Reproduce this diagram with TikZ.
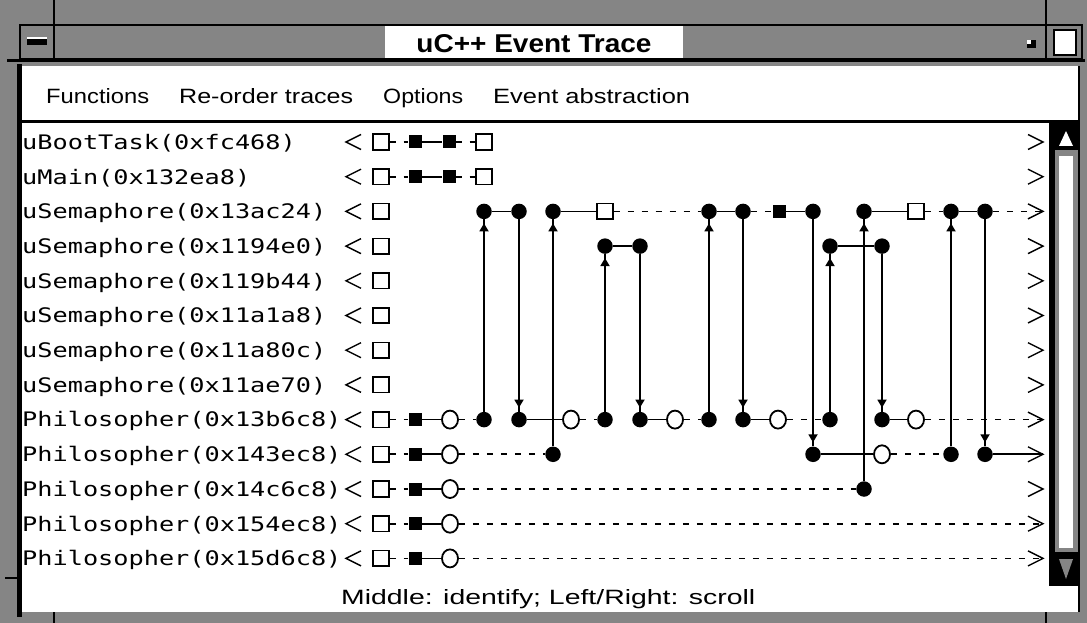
\documentclass[tikz,border=0pt]{standalone}
\usepackage{fontspec}
\setmainfont{Liberation Sans}
\newfontfamily\monof{DejaVu Sans Mono}
\usetikzlibrary{arrows.meta,decorations.markings,shapes.geometric}
\definecolor{dith}{gray}{0.52}
\newcommand{\lbltext}[1]{\scalebox{1.2625}[1]{\monof\fontsize{20pt}{20pt}\selectfont #1}}
\begin{document}
\begin{tikzpicture}[x=1pt,y=-1pt,
  osq/.style={rectangle,draw,fill=white,line width=1.6pt,minimum size=15.5pt,inner sep=0pt},
  fsq/.style={rectangle,fill=black,minimum size=13pt,inner sep=0pt},
  ocir/.style={ellipse,draw,fill=white,line width=1.8pt,minimum width=16pt,minimum height=18pt,inner sep=0pt},
  fcir/.style={circle,fill=black,minimum size=15.5pt,inner sep=0pt},
  sol/.style={line width=1.7pt},
  dsh/.style={line width=1.7pt,dash pattern=on 6pt off 8pt},
  chev/.style={line width=1.4pt},
  msgto/.style={line width=1.7pt,postaction={decorate},
    decoration={markings,mark=at position -4pt with {\arrow{Triangle[width=9pt,length=8pt]}}}},
  lab/.style={anchor=base west,inner sep=0pt},
  menuitem/.style={anchor=base west,inner sep=0pt}
]
\useasboundingbox (0,0) rectangle (1087,623);
% background (dithered grey)
\fill[dith] (0,0) rectangle (1087,623);
% ---------- title bar ----------
\filldraw[fill=dith,draw=black,line width=1.2pt] (20,25) rectangle (1082,59);
\fill[white] (385,26) rectangle (683,58);
\node[anchor=base,inner sep=0pt] (title) at (534,53) {\resizebox{235pt}{18pt}{\bfseries uC++ Event Trace}};
\draw[line width=1.2pt] (54,0) -- (54,59);
\draw[line width=1.2pt] (1046,0) -- (1046,59);
\fill[black] (27,39) rectangle (47,45);
\fill[white] (27,37.5) rectangle (47,39.5);
\fill[black] (1027,40) rectangle (1036,48);
\fill[white] (1027,40) rectangle (1031,44);
\filldraw[fill=white,draw=black,line width=1.2pt] (1054,30) rectangle (1076,55);
\draw[line width=2.5pt] (1055,55) -- (1076,55) -- (1076,31);
\draw[line width=3pt] (7,61) -- (1085,61);
% ---------- window ----------
\fill[white] (20,66) rectangle (1079,612);
\fill[black] (17,64) rectangle (22,617);
\draw[line width=1.5pt] (1079,66) -- (1079,612);
\draw[line width=3pt] (18,121.5) -- (1080,121.5);
\draw[line width=1.2pt] (5,578) -- (17,578);
\draw[line width=1.2pt] (54,612) -- (54,623);
\draw[line width=1.2pt] (1046,612) -- (1046,623);
% menu
\node[menuitem] (mFun) at (46,104) {\resizebox{103pt}{15pt}{Functions}};
\node[menuitem] (mReo) at (179,104) {\resizebox{174pt}{15pt}{Re-order traces}};
\node[menuitem] (mOpt) at (383,104) {\resizebox{80pt}{15pt}{Options}};
\node[menuitem] (mEvt) at (493,104) {\resizebox{197pt}{15pt}{Event abstraction}};
% status line
\node[menuitem] (status) at (341,604) {\resizebox{414pt}{15pt}{Middle: identify; Left/Right: scroll}};
% ---------- scrollbar ----------
\draw[line width=1.5pt] (1050,123) -- (1050,586);
\fill[black] (1051,123) rectangle (1078,586);
\fill[dith] (1055,150) rectangle (1078,552);
\fill[white] (1059,156) rectangle (1073,548);
\fill[white] (1059,146) -- (1073,146) -- (1066,131) -- cycle;
\fill[dith] (1059,559) -- (1073,559) -- (1066,579) -- cycle;
% ---------- trace labels ----------
\node[lab] (l0) at (22,149.3) {\lbltext{uBootTask(0xfc468)}};
\node[lab] (l1) at (22,184.0) {\lbltext{uMain(0x132ea8)}};
\node[lab] (l2) at (22,218.7) {\lbltext{uSemaphore(0x13ac24)}};
\node[lab] (l3) at (22,253.4) {\lbltext{uSemaphore(0x1194e0)}};
\node[lab] (l4) at (22,288.1) {\lbltext{uSemaphore(0x119b44)}};
\node[lab] (l5) at (22,322.8) {\lbltext{uSemaphore(0x11a1a8)}};
\node[lab] (l6) at (22,357.5) {\lbltext{uSemaphore(0x11a80c)}};
\node[lab] (l7) at (22,392.2) {\lbltext{uSemaphore(0x11ae70)}};
\node[lab] (l8) at (22,426.9) {\lbltext{Philosopher(0x13b6c8)}};
\node[lab] (l9) at (22,461.6) {\lbltext{Philosopher(0x143ec8)}};
\node[lab] (l10) at (22,496.3) {\lbltext{Philosopher(0x14c6c8)}};
\node[lab] (l11) at (22,531.0) {\lbltext{Philosopher(0x154ec8)}};
\node[lab] (l12) at (22,565.7) {\lbltext{Philosopher(0x15d6c8)}};
% row start squares, chevrons, end points
\foreach \i/\yy in {0/142,1/176.7,2/211.4,3/246.1,4/280.8,5/315.5,6/350.2,7/384.9,8/419.6,9/454.3,10/489,11/523.7,12/558.4}{
  \draw[chev] (361,\yy-7.5) -- (346,\yy) -- (361,\yy+7.5);
  \draw[chev] (1028,\yy-7.5) -- (1043,\yy) -- (1028,\yy+7.5);
  \node[osq] (s\i) at (381,\yy) {};
  \coordinate (e\i) at (1043,\yy);
}
% ---------- events ----------
% rows 0,1
\node[fsq] (r0a) at (415,142) {};
\node[fsq] (r0b) at (449,142) {};
\node[osq] (r0c) at (484,142) {};
\node[fsq] (r1a) at (415,176.7) {};
\node[fsq] (r1b) at (449,176.7) {};
\node[osq] (r1c) at (484,176.7) {};
% row 2
\node[fcir] (r2a) at (484,211.4) {};
\node[fcir] (r2b) at (519,211.4) {};
\node[fcir] (r2c) at (553,211.4) {};
\node[osq]  (r2d) at (605,211.4) {};
\node[fcir] (r2e) at (709,211.4) {};
\node[fcir] (r2f) at (743,211.4) {};
\node[fsq]  (r2g) at (779,211.4) {};
\node[fcir] (r2h) at (813,211.4) {};
\node[fcir] (r2i) at (864,211.4) {};
\node[osq]  (r2j) at (916,211.4) {};
\node[fcir] (r2k) at (951,211.4) {};
\node[fcir] (r2l) at (985,211.4) {};
% row 3
\node[fcir] (r3a) at (605,246.1) {};
\node[fcir] (r3b) at (640,246.1) {};
\node[fcir] (r3c) at (830,246.1) {};
\node[fcir] (r3d) at (882,246.1) {};
% row 8
\node[fsq]  (r8a) at (415,419.6) {};
\node[ocir] (r8b) at (450,419.6) {};
\node[fcir] (r8c) at (484,419.6) {};
\node[fcir] (r8d) at (519,419.6) {};
\node[ocir] (r8e) at (571,419.6) {};
\node[fcir] (r8f) at (605,419.6) {};
\node[fcir] (r8g) at (640,419.6) {};
\node[ocir] (r8h) at (675,419.6) {};
\node[fcir] (r8i) at (709,419.6) {};
\node[fcir] (r8j) at (743,419.6) {};
\node[ocir] (r8k) at (778,419.6) {};
\node[fcir] (r8l) at (830,419.6) {};
\node[fcir] (r8m) at (882,419.6) {};
\node[ocir] (r8n) at (916,419.6) {};
% row 9
\node[fsq]  (r9a) at (415,454.3) {};
\node[ocir] (r9b) at (450,454.3) {};
\node[fcir] (r9c) at (553,454.3) {};
\node[fcir] (r9d) at (813,454.3) {};
\node[ocir] (r9e) at (882,454.3) {};
\node[fcir] (r9f) at (951,454.3) {};
\node[fcir] (r9g) at (985,454.3) {};
% row 10
\node[fsq]  (r10a) at (415,489) {};
\node[ocir] (r10b) at (450,489) {};
\node[fcir] (r10c) at (864,489) {};
% rows 11,12
\node[fsq]  (r11a) at (415,523.7) {};
\node[ocir] (r11b) at (450,523.7) {};
\node[fsq]  (r12a) at (415,558.4) {};
\node[ocir] (r12b) at (450,558.4) {};
% ---------- horizontal connectors ----------
\draw[dsh] (s0) -- (r0a); \draw[sol] (r0a) -- (r0b); \draw[dsh] (r0b) -- (r0c);
\draw[dsh] (s1) -- (r1a); \draw[sol] (r1a) -- (r1b); \draw[dsh] (r1b) -- (r1c);
\draw[sol] (r2a) -- (r2b);
\draw[sol] (r2c) -- (r2d); \draw[dsh] (r2d) -- (r2e);
\draw[sol] (r2e) -- (r2f); \draw[dsh] (r2f) -- (r2g);
\draw[sol] (r2g) -- (r2h);
\draw[sol] (r2i) -- (r2j); \draw[dsh] (r2j) -- (r2k);
\draw[sol] (r2k) -- (r2l); \draw[dsh] (r2l) -- (e2);
\draw[sol] (r3a) -- (r3b); \draw[sol] (r3c) -- (r3d);
\draw[dsh] (s8) -- (r8a); \draw[sol] (r8a) -- (r8b); \draw[dsh] (r8b) -- (r8c);
\draw[sol] (r8d) -- (r8e); \draw[dsh] (r8e) -- (r8f);
\draw[sol] (r8g) -- (r8h); \draw[dsh] (r8h) -- (r8i);
\draw[sol] (r8j) -- (r8k); \draw[dsh] (r8k) -- (r8l);
\draw[sol] (r8m) -- (r8n); \draw[dsh] (r8n) -- (e8);
\draw[dsh] (s9) -- (r9a); \draw[sol] (r9a) -- (r9b); \draw[dsh] (r9b) -- (r9c);
\draw[sol] (r9d) -- (r9e); \draw[dsh] (r9e) -- (r9f);
\draw[sol] (r9g) -- (e9);
\draw[dsh] (s10) -- (r10a); \draw[sol] (r10a) -- (r10b); \draw[dsh] (r10b) -- (r10c);
\draw[dsh] (s11) -- (r11a); \draw[sol] (r11a) -- (r11b); \draw[dsh] (r11b) -- (e11);
\draw[dsh] (s12) -- (r12a); \draw[sol] (r12a) -- (r12b); \draw[dsh] (r12b) -- (e12);
% ---------- vertical messages ----------
\draw[msgto] (r8c) -- (r2a);
\draw[msgto] (r2b) -- (r8d);
\draw[msgto] (r9c) -- (r2c);
\draw[msgto] (r8f) -- (r3a);
\draw[msgto] (r3b) -- (r8g);
\draw[msgto] (r8i) -- (r2e);
\draw[msgto] (r2f) -- (r8j);
\draw[msgto] (r2h) -- (r9d);
\draw[msgto] (r8l) -- (r3c);
\draw[msgto] (r10c) -- (r2i);
\draw[msgto] (r3d) -- (r8m);
\draw[msgto] (r9f) -- (r2k);
\draw[msgto] (r2l) -- (r9g);
\end{tikzpicture}
\end{document}
